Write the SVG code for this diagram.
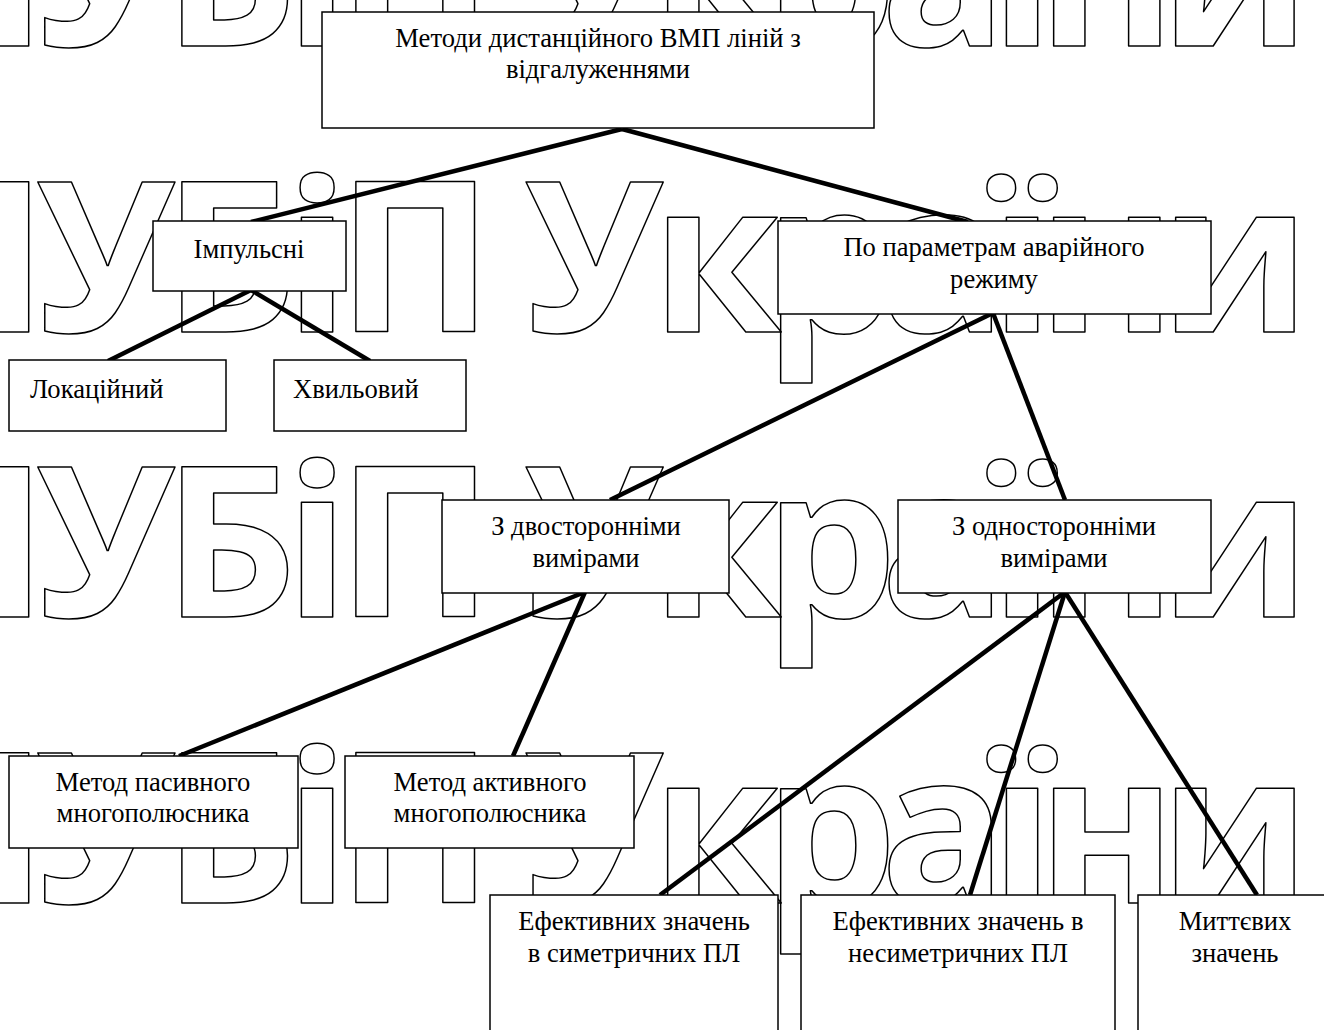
<svg xmlns="http://www.w3.org/2000/svg" width="1324" height="1030" viewBox="0 0 1324 1030">
<style>
.wm{font-family:"Open Sans",sans-serif;font-weight:700;font-size:210px;letter-spacing:-12px;fill:none;stroke:#000;stroke-width:1.5;stroke-linejoin:round}
.wm2{letter-spacing:-17px}
.box{fill:#fff;stroke:#000;stroke-width:1.5}
.lbl{font-family:"Liberation Serif","Times New Roman",serif;font-size:26.6px;fill:#000;text-anchor:middle}
.lft{text-anchor:start}
.con{stroke:#000;stroke-width:4.5;fill:none;stroke-linecap:butt}
</style>
<rect width="1324" height="1030" fill="#fff"/>
<g id="watermark">
<text class="wm" x="-113" y="46">НУБіП У<tspan class="wm2">країни</tspan></text>
<text class="wm" x="-113" y="332">НУБіП У<tspan class="wm2">країни</tspan></text>
<text class="wm" x="-113" y="617">НУБіП У<tspan class="wm2">країни</tspan></text>
<text class="wm" x="-113" y="903">НУБіП У<tspan class="wm2">країни</tspan></text>
</g>
<g id="connectors">
<line class="con" x1="622" y1="129" x2="251" y2="222"/>
<line class="con" x1="622" y1="129" x2="968" y2="222"/>
<line class="con" x1="251" y1="290" x2="108" y2="361"/>
<line class="con" x1="251" y1="290" x2="370" y2="361"/>
<line class="con" x1="993" y1="313" x2="610" y2="500"/>
<line class="con" x1="993" y1="313" x2="1065" y2="500"/>
<line class="con" x1="585" y1="592" x2="179" y2="756"/>
<line class="con" x1="585" y1="592" x2="513" y2="756"/>
<line class="con" x1="1065" y1="592" x2="660" y2="895"/>
<line class="con" x1="1065" y1="592" x2="970" y2="895"/>
<line class="con" x1="1065" y1="592" x2="1257" y2="895"/>
</g>
<g id="n-root">
<rect class="box" x="322" y="12" width="552" height="116"/>
<text class="lbl" x="598" y="47">Методи дистанційного ВМП ліній з</text>
<text class="lbl" x="598" y="78">відгалуженнями</text>
</g>
<g id="n-impulse">
<rect class="box" x="153" y="221" width="193" height="70"/>
<text class="lbl" x="249" y="258">Імпульсні</text>
</g>
<g id="n-location">
<rect class="box" x="9" y="360" width="217" height="71"/>
<text class="lbl lft" x="30" y="398">Локаційний</text>
</g>
<g id="n-wave">
<rect class="box" x="274" y="360" width="192" height="71"/>
<text class="lbl lft" x="293" y="398">Хвильовий</text>
</g>
<g id="n-emergency">
<rect class="box" x="778" y="221" width="433" height="93"/>
<text class="lbl" x="994" y="256">По параметрам аварійного</text>
<text class="lbl" x="994" y="288">режиму</text>
</g>
<g id="n-two-sided">
<rect class="box" x="442" y="500" width="287" height="93"/>
<text class="lbl" x="586" y="535">З двосторонніми</text>
<text class="lbl" x="586" y="567">вимірами</text>
</g>
<g id="n-one-sided">
<rect class="box" x="898" y="500" width="313" height="93"/>
<text class="lbl" x="1054" y="535">З односторонніми</text>
<text class="lbl" x="1054" y="567">вимірами</text>
</g>
<g id="n-passive">
<rect class="box" x="9" y="756" width="289" height="92"/>
<text class="lbl" x="153" y="791">Метод пасивного</text>
<text class="lbl" x="153" y="822">многополюсника</text>
</g>
<g id="n-active">
<rect class="box" x="345" y="756" width="289" height="92"/>
<text class="lbl" x="490" y="791">Метод активного</text>
<text class="lbl" x="490" y="822">многополюсника</text>
</g>
<g id="n-sym">
<rect class="box" x="490" y="895" width="288" height="150"/>
<text class="lbl" x="634" y="930">Ефективних значень</text>
<text class="lbl" x="634" y="962">в симетричних ПЛ</text>
</g>
<g id="n-asym">
<rect class="box" x="801" y="895" width="314" height="150"/>
<text class="lbl" x="958" y="930">Ефективних значень в</text>
<text class="lbl" x="958" y="962">несиметричних ПЛ</text>
</g>
<g id="n-instant">
<rect class="box" x="1138" y="895" width="194" height="150"/>
<text class="lbl" x="1235" y="930">Миттєвих</text>
<text class="lbl" x="1235" y="962">значень</text>
</g>
</svg>
